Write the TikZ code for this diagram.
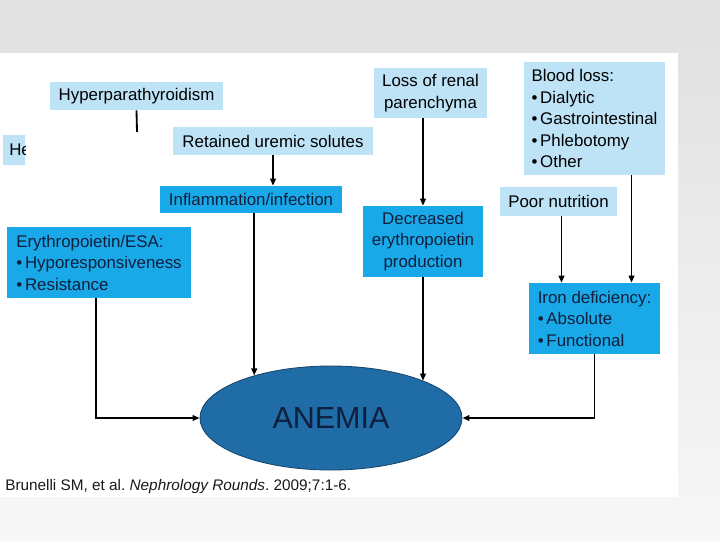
\documentclass[tikz,border=0pt]{standalone}
\usepackage{fontspec}
\setmainfont{Liberation Sans}
\usetikzlibrary{arrows.meta,shapes.geometric}
\definecolor{lightbox}{HTML}{BEE3F7}
\definecolor{darkbox}{HTML}{1AA9E8}
\definecolor{anemiafill}{HTML}{1F6CA6}
\definecolor{anemialine}{HTML}{17466E}
\definecolor{darktext}{HTML}{0F1F3D}
\newlength\pxl
\setlength\pxl{0.025cm}
\frenchspacing

\begin{document}
\begin{tikzpicture}[x=0.025cm, y=-0.025cm,
  >={Triangle[length=5pt,width=4pt]},
  cause/.style={fill=lightbox, text=black, inner sep=0pt, align=center,
    font=\fontsize{12}{15.3}\selectfont},
  factor/.style={cause, fill=darkbox, text=darktext},
  link/.style={line width=1.3pt, black}
]
  % slide background
  \useasboundingbox (0,0) rectangle (720,540);
  \shade[top color=black!12, bottom color=black!3] (0,0) rectangle (720,540);
  \fill[white] (0,53) rectangle (678,497);

  % upstream causes
  \node[cause, minimum width=173\pxl, minimum height=28\pxl] (hyper) at (136.5,96) {Hyperparathyroidism};
  \begin{scope}
    \clip (3,135) rectangle (25,165);
    \node[cause, anchor=west, inner xsep=6\pxl, minimum height=30\pxl] (hep) at (3,150) {He};
  \end{scope}
  \node[cause, minimum width=200\pxl, minimum height=28\pxl] (retained) at (273,141) {Retained uremic solutes};
  \node[cause, minimum width=113\pxl, minimum height=50\pxl] (loss) at (430.5,93) {Loss of renal\\parenchyma};
  \node[cause, minimum width=141\pxl, minimum height=113\pxl, align=left] (blood) at (594.5,118.5)
    {Blood loss:\\\textbullet\kern2pt Dialytic\\\textbullet\kern2pt Gastrointestinal\\\textbullet\kern2pt Phlebotomy\\\textbullet\kern2pt Other};
  \node[cause, minimum width=117\pxl, minimum height=29\pxl] (poor) at (558.5,201.5) {Poor nutrition};

  % direct factors
  \node[factor, minimum width=182\pxl, minimum height=27\pxl] (inflam) at (251,199.5) {Inflammation/infection};
  \node[factor, minimum width=120\pxl, minimum height=71\pxl] (decreased) at (423,241.5) {Decreased\\erythropoietin\\production};
  \node[factor, minimum width=184\pxl, minimum height=71\pxl, align=left] (esa) at (99,262.5)
    {Erythropoietin/ESA:\\\textbullet\kern2pt Hyporesponsiveness\\\textbullet\kern2pt Resistance};
  \node[factor, minimum width=131\pxl, minimum height=71\pxl, align=left] (iron) at (594.5,318.5)
    {Iron deficiency:\\\textbullet\kern2pt Absolute\\\textbullet\kern2pt Functional};

  \node[ellipse, draw=anemialine, line width=0.6pt, fill=anemiafill, inner sep=0pt,
        minimum width=262\pxl, minimum height=104\pxl, text=darktext,
        font=\fontsize{21.7}{26}\selectfont] (anemia) at (331,418) {ANEMIA};

  % connectors
  \coordinate (hyperend) at (137,132);
  \draw[link] (hyper.south) -- (hyperend);
  \draw[link,->] (retained.south) -- (retained.south |- inflam.north);
  \draw[link,->] (anemia.151 |- inflam.south) -- (anemia.151);
  \draw[link,->] (decreased.north |- loss.south) -- (decreased.north);
  \draw[link,->] (decreased.south) -- (decreased.south |- anemia.22);
  \draw[link,->] ([xshift=3\pxl]poor.south) -- ([xshift=3\pxl]poor.south |- iron.north);
  \draw[link,->] ([xshift=37\pxl]blood.south) -- ([xshift=37\pxl]blood.south |- iron.north);
  \draw[link,->] (iron.south) |- (anemia.east);
  \draw[link,->] ([xshift=-3\pxl]esa.south) |- (anemia.west);

  \node[anchor=west, inner sep=0pt, text=black!90, font=\fontsize{10.9}{13}\selectfont] (cite) at (5,487)
    {Brunelli SM, et al. \textit{Nephrology Rounds}. 2009;7:1-6.};
\end{tikzpicture}
\end{document}
